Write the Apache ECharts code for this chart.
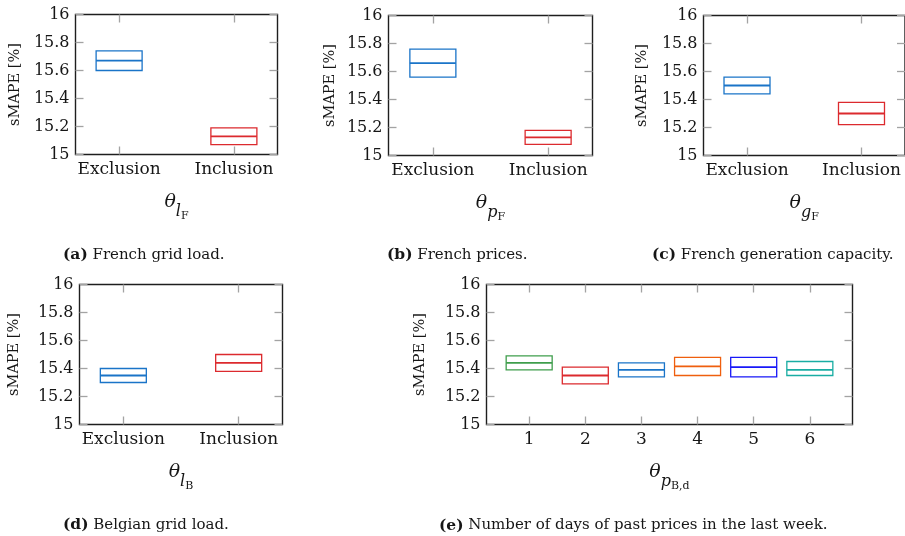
<!DOCTYPE html>
<html>
<head>
<meta charset="utf-8">
<script src="https://cdn.jsdelivr.net/npm/echarts@6/dist/echarts.min.js"></script>
<style>
html,body{margin:0;padding:0;background:#fff;}
#chart{width:905px;height:536px;}
</style>
</head>
<body>
<div id="chart"></div>
<script>
// ---- data ----
const binCategories = ['Exclusion', 'Inclusion'];
const dayCategories = ['1', '2', '3', '4', '5', '6'];
const yTickValues = [15, 15.2, 15.4, 15.6, 15.8, 16];

// (a) French grid load
const aQ1 = [15.60, 15.07];
const aMed = [15.67, 15.13];
const aQ3 = [15.74, 15.19];
// (b) French prices
const bQ1 = [15.56, 15.08];
const bMed = [15.66, 15.13];
const bQ3 = [15.76, 15.18];
// (c) French generation capacity
const cQ1 = [15.44, 15.22];
const cMed = [15.50, 15.30];
const cQ3 = [15.56, 15.38];
// (d) Belgian grid load
const dQ1 = [15.30, 15.38];
const dMed = [15.35, 15.44];
const dQ3 = [15.40, 15.50];
// (e) Number of days of past prices
const eQ1 = [15.39, 15.29, 15.34, 15.35, 15.34, 15.35];
const eMed = [15.44, 15.35, 15.39, 15.415, 15.41, 15.39];
const eQ3 = [15.49, 15.41, 15.44, 15.48, 15.48, 15.45];

// ---- styles ----
const SERIF = 'DejaVu Serif';
const TXT = '#161616';
const TICK = '#a3a3a3';
const BLUE = '#1a74c8', RED = '#dc2a2e', GREEN = '#3f9e4c', ORANGE = '#ef5f0e', PBLUE = '#1818f8', TEAL = '#19ada3';
const binColors = [BLUE, RED];
const dayColors = [GREEN, RED, BLUE, ORANGE, PBLUE, TEAL];

const grids = [
  {left: 75.5, top: 14.5, width: 202, height: 140},
  {left: 388.5, top: 15.5, width: 204, height: 140},
  {left: 703.5, top: 15.5, width: 205, height: 140},
  {left: 79.5, top: 284.5, width: 203, height: 140},
  {left: 486.5, top: 284.5, width: 366, height: 140}
].map(g => Object.assign({show: true, borderColor: '#1e1e1e', borderWidth: 1.4, backgroundColor: 'transparent'}, g));

const thetaRich = {
  t: {fontFamily: SERIF, fontStyle: 'italic', fontSize: 19, color: TXT},
  s: {fontFamily: SERIF, fontStyle: 'italic', fontSize: 16, color: TXT, padding: [19, 0, 0, 0]},
  ss: {fontFamily: SERIF, fontSize: 11, color: TXT, padding: [28, 0, 0, 0]}
};

const panels = [
  {cats: binCategories, pos: [0, 1], min: -0.38, max: 1.38, name: '{t|θ}{s|l}{ss|F}', yGap: 53, q1: aQ1, med: aMed, q3: aQ3, colors: binColors},
  {cats: binCategories, pos: [0, 1], min: -0.385, max: 1.385, name: '{t|θ}{s|p}{ss|F}', yGap: 51, q1: bQ1, med: bMed, q3: bQ3, colors: binColors},
  {cats: binCategories, pos: [0, 1], min: -0.38, max: 1.38, name: '{t|θ}{s|g}{ss|F}', yGap: 54, q1: cQ1, med: cMed, q3: cQ3, colors: binColors},
  {cats: binCategories, pos: [0, 1], min: -0.38, max: 1.38, name: '{t|θ}{s|l}{ss|B}', yGap: 57.5, q1: dQ1, med: dMed, q3: dQ3, colors: binColors},
  {cats: dayCategories, pos: [1, 2, 3, 4, 5, 6], min: 0.24, max: 6.76, name: '{t|θ}{s|p}{ss|B,d}', yGap: 58.5, q1: eQ1, med: eMed, q3: eQ3, colors: dayColors}
];

const xAxes = [], yAxes = [], series = [];
const tickStyle = {inside: true, length: 8, lineStyle: {color: TICK, width: 1.3}};

panels.forEach((p, gi) => {
  xAxes.push({
    gridIndex: gi, type: 'value', position: 'bottom', min: p.min, max: p.max,
    axisLine: {show: false, onZero: false}, splitLine: {show: false},
    axisTick: Object.assign({customValues: p.pos}, tickStyle),
    axisLabel: {
      customValues: p.pos, margin: 7, fontFamily: SERIF, fontSize: 17, color: TXT,
      formatter: (v) => p.cats[p.pos.indexOf(Math.round(v))]
    },
    name: p.name, nameLocation: 'middle', nameGap: 28,
    nameTextStyle: {rich: thetaRich}
  });
  xAxes.push({
    gridIndex: gi, type: 'value', position: 'top', min: p.min, max: p.max,
    axisLine: {show: false, onZero: false}, splitLine: {show: false},
    axisTick: Object.assign({customValues: p.pos}, tickStyle),
    axisLabel: {show: false}
  });
  yAxes.push({
    gridIndex: gi, type: 'value', position: 'left', min: 15, max: 16, interval: 0.2,
    axisLine: {show: false, onZero: false}, splitLine: {show: false},
    axisTick: tickStyle,
    axisLabel: {margin: 6, fontFamily: SERIF, fontSize: 16, color: TXT,
      formatter: (v) => String(yTickValues.find(t => Math.abs(t - v) < 1e-6) ?? v)},
    name: 'sMAPE [%]', nameLocation: 'middle', nameRotate: 90, nameGap: p.yGap,
    nameTextStyle: {fontFamily: SERIF, fontSize: 14.5, color: TXT}
  });
  yAxes.push({
    gridIndex: gi, type: 'value', position: 'right', min: 15, max: 16, interval: 0.2,
    axisLine: {show: false, onZero: false}, splitLine: {show: false},
    axisTick: tickStyle, axisLabel: {show: false}
  });
  const data = p.pos.map((x, i) => [x, p.q1[i], p.med[i], p.q3[i]]);
  series.push({
    type: 'custom',
    xAxisIndex: gi * 2, yAxisIndex: gi * 2,
    data: data,
    encode: {x: 0, y: [1, 2, 3]},
    silent: true,
    renderItem: (params, api) => {
      const x = api.value(0);
      const top = api.coord([x, api.value(3)]);
      const bot = api.coord([x, api.value(1)]);
      const mid = api.coord([x, api.value(2)]);
      const hw = 23;
      const color = p.colors[params.dataIndex];
      return {
        type: 'group',
        children: [
          {type: 'rect', shape: {x: top[0] - hw, y: top[1], width: 2 * hw, height: bot[1] - top[1]},
           style: {fill: 'none', stroke: color, lineWidth: 1.3}},
          {type: 'line', shape: {x1: mid[0] - hw, y1: mid[1], x2: mid[0] + hw, y2: mid[1]},
           style: {stroke: color, lineWidth: 1.8}}
        ]
      };
    }
  });
});

const captionRich = {b: {fontFamily: SERIF, fontWeight: 'bold', fontSize: 15.5, fill: TXT}};
function caption(x, y, label, text) {
  return {
    type: 'text', x: x, y: y, silent: true,
    style: {text: '{b|' + label + '} ' + text, fontFamily: SERIF, fontSize: 15, fill: TXT,
            verticalAlign: 'middle', align: 'left', rich: captionRich}
  };
}

const option = {
  animation: false,
  backgroundColor: '#ffffff',
  grid: grids,
  xAxis: xAxes,
  yAxis: yAxes,
  series: series,
  graphic: [
    caption(63, 255, '(a)', 'French grid load.'),
    caption(387, 255, '(b)', 'French prices.'),
    caption(652, 255, '(c)', 'French generation capacity.'),
    caption(63, 525, '(d)', 'Belgian grid load.'),
    caption(439, 525.5, '(e)', 'Number of days of past prices in the last week.')
  ]
};

const chart = echarts.init(document.getElementById('chart'), null, {renderer: 'canvas'});
chart.setOption(option);
</script>
</body>
</html>
